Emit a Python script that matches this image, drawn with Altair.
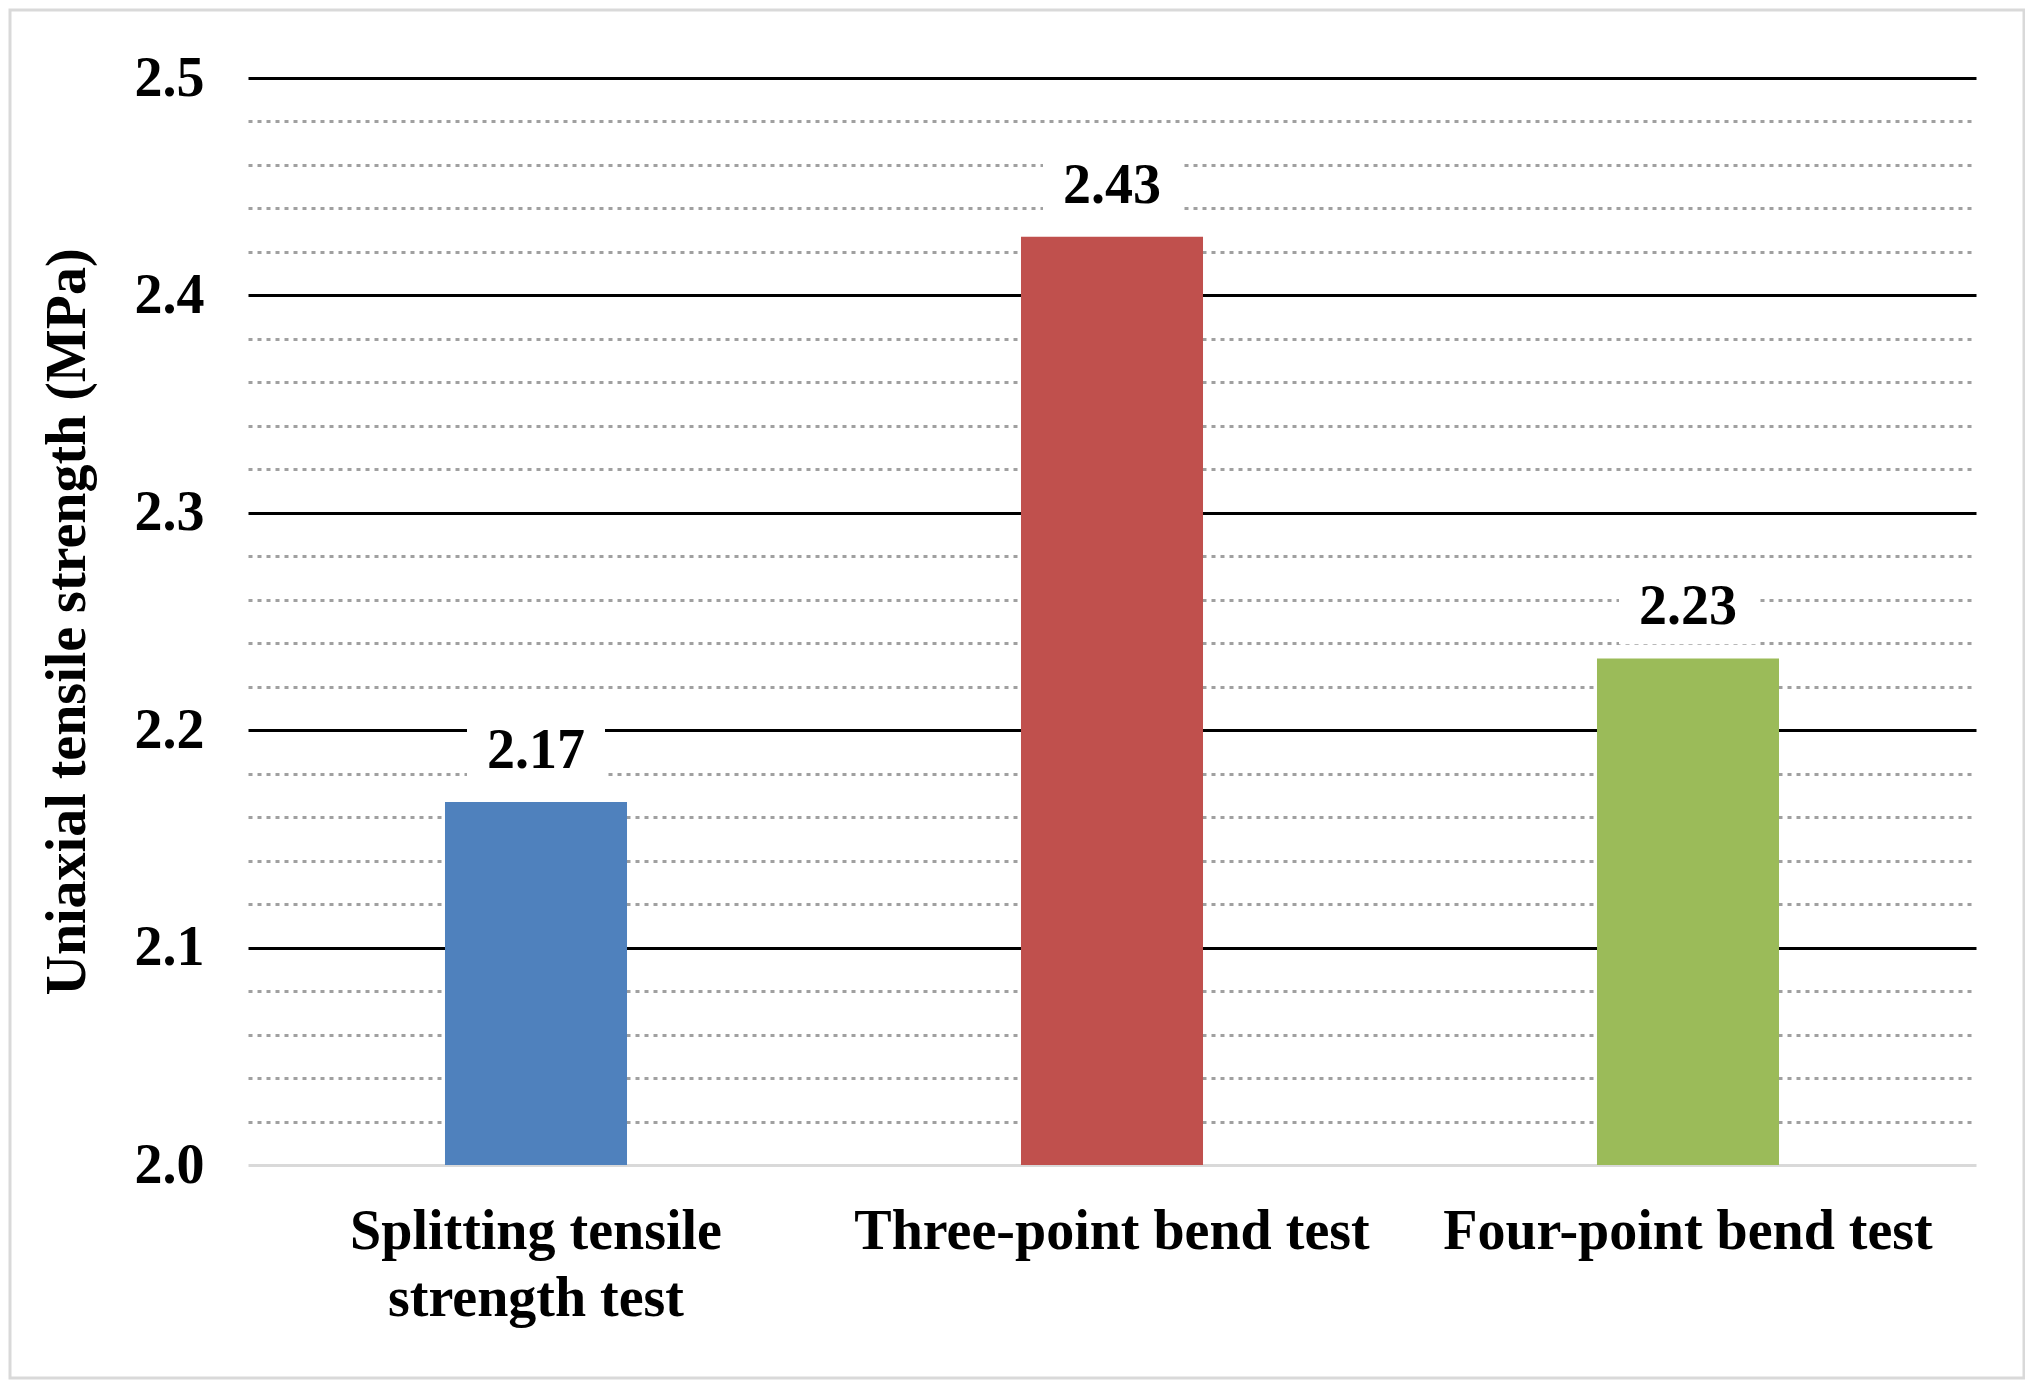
import altair as alt
import pandas as pd

categories = ["Splitting tensile\nstrength test", "Three-point bend test", "Four-point bend test"]
strength = [2.167, 2.427, 2.233]
bar_colors = ["#4F81BD", "#C0504D", "#9BBB59"]
y_ticks = [2.0, 2.02, 2.04, 2.06, 2.08, 2.1, 2.12, 2.14, 2.16, 2.18, 2.2, 2.22, 2.24,
           2.26, 2.28, 2.3, 2.32, 2.34, 2.36, 2.38, 2.4, 2.42, 2.44, 2.46, 2.48, 2.5]
y_title = "Uniaxial tensile strength (MPa)"

df = pd.DataFrame({"test": categories, "strength": strength})

FONT = "Liberation Serif"
FS = 56
W, H = 1728, 1087
major = "abs(datum.value*10 - round(datum.value*10)) < 1e-6"

x_enc = alt.X(
    "test:N", sort=categories, title=None,
    scale=alt.Scale(paddingInner=0.684, paddingOuter=0.342),
    axis=alt.Axis(labelAngle=0, labelExpr="split(datum.label, '\\n')",
                  labelFont=FONT, labelFontSize=FS, labelFontWeight="bold",
                  labelColor="black", labelPadding=39, labelLineHeight=67,
                  labelLimit=800, ticks=False, domainColor="#d9d9d9", domainWidth=3,
                  grid=False),
)
y_scale = alt.Scale(domain=[2.0, 2.5], nice=False, zero=False)
y_enc = alt.Y(
    "strength:Q", title=y_title, scale=y_scale,
    axis=alt.Axis(values=y_ticks,
                  labelExpr=f"{major} ? format(datum.value, '.1f') : ''",
                  labelFont=FONT, labelFontSize=FS, labelFontWeight="bold",
                  labelColor="black", labelPadding=44, labelBaseline="middle",
                  grid=True,
                  gridColor={"condition": {"test": major, "value": "black"}, "value": "#a0a0a0"},
                  gridDash={"condition": {"test": major, "value": []}, "value": [4, 5]},
                  gridWidth=3,
                  gridOpacity={"condition": {"test": "datum.value < 2.001", "value": 0}, "value": 1},
                  domain=False, ticks=False,
                  titleFont=FONT, titleFontSize=FS, titleFontWeight="bold",
                  titleColor="black", titlePadding=38),
)

base = alt.Chart(df)

bars = base.mark_bar(stroke=None).encode(
    x=x_enc,
    y=y_enc,
    y2=alt.datum(2.0),
    color=alt.Color("test:N", sort=categories,
                    scale=alt.Scale(domain=categories, range=bar_colors), legend=None),
)

label_box = base.transform_calculate(
    lo="datum.strength + 0.0065", hi="datum.strength + 0.037"
).mark_bar(color="white", size=138).encode(
    x=alt.X("test:N", sort=categories),
    y=alt.Y("lo:Q", scale=y_scale),
    y2="hi:Q",
)

labels = base.mark_text(dy=-34, baseline="alphabetic", font=FONT, fontSize=FS,
                        fontWeight="bold", color="black").encode(
    x=alt.X("test:N", sort=categories),
    y=alt.Y("strength:Q", scale=y_scale),
    text=alt.Text("strength:Q", format=".2f"),
)

frame = alt.Chart(alt.Data(values=[{}])).mark_rect(
    filled=False, stroke="#d9d9d9", strokeWidth=3
).encode(
    x=alt.value(-238), x2=alt.value(1776), y=alt.value(-68), y2=alt.value(1300)
)

chart = alt.layer(bars, label_box, labels, frame).properties(
    width=W, height=H,
    autosize=alt.AutoSizeParams(type="none"),
    padding={"left": 240, "top": 70, "right": 49, "bottom": 215},
).configure(background="white").configure_view(stroke=None)

chart.save("out.html", embed_options={"renderer": "svg", "actions": False})
